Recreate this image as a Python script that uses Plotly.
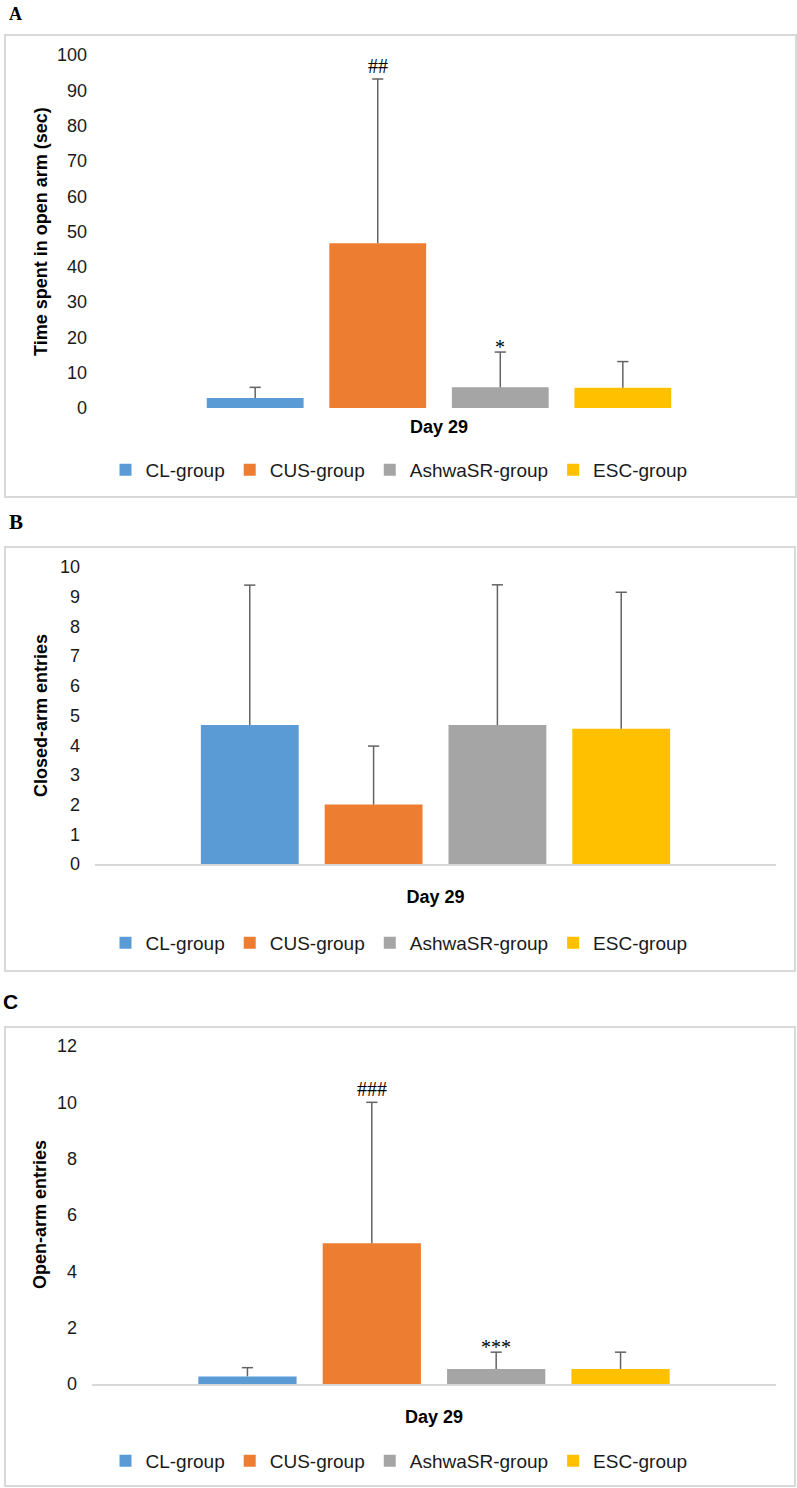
import plotly.graph_objects as go

W, H = 797, 1488

groups = ["CL-group", "CUS-group", "AshwaSR-group", "ESC-group"]
colors = ["#5B9BD5", "#ED7D31", "#A5A5A5", "#FFC000"]
day_label = "Day 29"

# A: time spent in open arm (sec)
open_time_mean = [2.8, 46.7, 5.85, 5.75]
open_time_sd = [3.05, 46.5, 10.0, 7.4]
open_time_sig = ["", "##", "*", ""]

# B: closed-arm entries
closed_mean = [4.68, 2.0, 4.68, 4.55]
closed_sd = [4.71, 1.97, 4.72, 4.6]
closed_sig = ["", "", "", ""]

# C: open-arm entries
open_mean = [0.27, 5.0, 0.53, 0.53]
open_sd = [0.31, 5.0, 0.6, 0.6]
open_sig = ["", "###", "***", ""]

SANS = "Arial, Liberation Sans, sans-serif"
SERIF = "Times New Roman, Liberation Serif, serif"
TXT = "#1a1a1a"
ERR = "#636363"
BORDER = "#d9d9d9"


def px(p):
    # page pixel -> paper fraction
    return p / W


def py(q):
    return 1 - q / H


# layout of each panel in page pixels
panels = [
    dict(letter="A", letter_font=dict(family=SERIF, size=18, weight="bold"), letter_xy=(7, 14),
         title="Time spent in open arm (sec)", title_xy=(41, 232),
         mean=open_time_mean, sd=open_time_sd, sig=open_time_sig,
         ymax=100, dtick=10, plot=(102, 776, 55, 408), baseline=False,
         legend_y=470, box=(5, 796, 35, 497), xstand=6),
    dict(letter="B", letter_font=dict(family=SERIF, size=21, weight="bold"), letter_xy=(7, 522),
         title="Closed-arm entries", title_xy=(41, 716),
         mean=closed_mean, sd=closed_sd, sig=closed_sig,
         ymax=10, dtick=1, plot=(95, 776, 567, 864), baseline=True,
         legend_y=943, box=(5, 795, 547, 971), xstand=16),
    dict(letter="C", letter_font=dict(family=SANS, size=21, weight="bold"), letter_xy=(1, 1001),
         title="Open-arm entries", title_xy=(40, 1215),
         mean=open_mean, sd=open_sd, sig=open_sig,
         ymax=12, dtick=2, plot=(92, 776, 1046, 1384), baseline=True,
         legend_y=1461, box=(5, 795, 1027, 1486), xstand=16),
]

fig = go.Figure()
shapes, annotations = [], []
idx = list(range(len(groups)))

for k, p in enumerate(panels):
    s = "" if k == 0 else str(k + 1)
    leg = "legend" + s
    for i, g in enumerate(groups):
        fig.add_trace(go.Bar(
            x=[i], y=[p["mean"][i]], width=0.79, name=g,
            marker=dict(color=colors[i], line=dict(width=0)),
            xaxis="x" + s, yaxis="y" + s, legend=leg, hoverinfo="skip",
        ))
    # upper-only error bars with a cap on top
    tops = [m + e for m, e in zip(p["mean"], p["sd"])]
    fig.add_trace(go.Scatter(
        x=idx, y=tops, mode="markers", showlegend=False, hoverinfo="skip",
        marker=dict(symbol="line-ew", size=8, line=dict(width=1.5, color=ERR)),
        error_y=dict(type="data", symmetric=False, array=[0] * len(idx), arrayminus=p["sd"],
                     width=0, thickness=1.5, color=ERR),
        xaxis="x" + s, yaxis="y" + s,
    ))

    l, r, t, b = p["plot"]
    fig.layout["xaxis" + s] = dict(
        domain=[px(l), px(r)], range=[-1.25, 4.25], anchor="y" + s, automargin=False,
        tickvals=[1.5], ticktext=[day_label], ticks="",
        tickfont=dict(family=SANS, size=18, color="#000", weight="bold"),
        ticklabelstandoff=p["xstand"],
        showgrid=False, zeroline=False,
        showline=p["baseline"], linecolor=BORDER, linewidth=1.5,
    )
    fig.layout["yaxis" + s] = dict(
        domain=[py(b), py(t)], range=[0, p["ymax"]], dtick=p["dtick"], anchor="x" + s,
        automargin=False, tickfont=dict(family=SANS, size=18, color=TXT), ticks="",
        ticklabelstandoff=14, showgrid=False, zeroline=False, showline=False,
    )
    fig.layout[leg] = dict(
        orientation="h", x=px(399), xanchor="center", y=py(p["legend_y"]), yanchor="middle",
        font=dict(family=SANS, size=19, color=TXT), bgcolor="rgba(0,0,0,0)",
        traceorder="normal",
    )

    bx0, bx1, by0, by1 = p["box"]
    shapes.append(dict(type="rect", xref="paper", yref="paper",
                       x0=px(bx0), x1=px(bx1), y0=py(by1), y1=py(by0),
                       line=dict(color=BORDER, width=2), layer="below"))

    annotations.append(dict(text=p["letter"], xref="paper", yref="paper",
                            x=px(p["letter_xy"][0]), y=py(p["letter_xy"][1]),
                            xanchor="left", yanchor="middle", showarrow=False,
                            font=dict(color="#000", **p["letter_font"])))
    annotations.append(dict(text=p["title"], xref="paper", yref="paper",
                            x=px(p["title_xy"][0]), y=py(p["title_xy"][1]),
                            xanchor="center", yanchor="middle", textangle=-90, showarrow=False,
                            font=dict(family=SANS, size=18, color="#000", weight="bold")))
    for i, mark in enumerate(p["sig"]):
        if not mark:
            continue
        annotations.append(dict(text=mark, xref="x" + s, yref="y" + s,
                                x=i, y=tops[i], xanchor="center", yanchor="bottom",
                                yshift=-8 if mark.startswith("*") else 0, showarrow=False,
                                font=dict(family=SERIF, size=20, color="#000")))

fig.update_layout(
    width=W, height=H, margin=dict(l=0, r=0, t=0, b=0, pad=0, autoexpand=False),
    paper_bgcolor="white", plot_bgcolor="white",
    showlegend=True, shapes=shapes, annotations=annotations,
)

# drop the default 8px body margin so the figure fills the window exactly
fig.write_html("out.html", config=dict(displayModeBar=False),
               post_script="document.body.style.margin='0';document.body.style.overflow='hidden';")
